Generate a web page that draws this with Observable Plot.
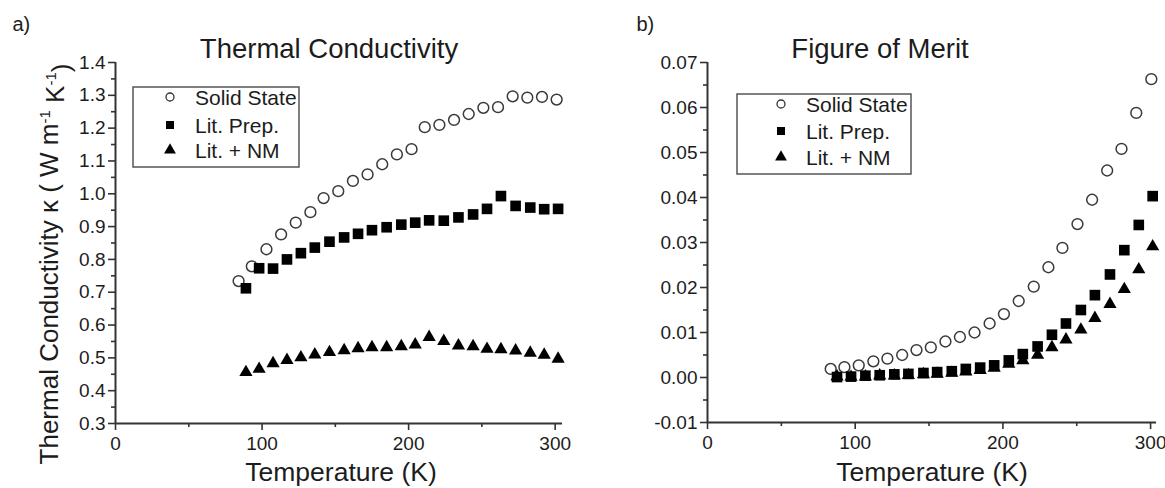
<!DOCTYPE html>
<html><head><meta charset="utf-8">
<script src="https://cdn.jsdelivr.net/npm/d3@7"></script>
<script src="https://cdn.jsdelivr.net/npm/@observablehq/plot@0.6"></script>
<style>
body{margin:0;background:#fff;}
#wrap{position:relative;width:1165px;height:488px;overflow:hidden;background:#fff;}
#wrap svg{position:absolute;top:0;}
</style></head><body><div id="wrap"></div>
<script>
// ---------- DATA ----------
const seriesNames = ["Solid State", "Lit. Prep.", "Lit. + NM"];

// Panel a) Thermal conductivity (W m-1 K-1)
const tempSolidA = [84,93,103,113,123,133,142,152,162,172,182,192,202,211,221,231,241,251,261,271,281,291,301];
const kappaSolid = [0.734,0.779,0.831,0.876,0.912,0.944,0.987,1.008,1.039,1.059,1.090,1.120,1.136,1.203,1.210,1.225,1.243,1.262,1.264,1.297,1.293,1.295,1.287];
const tempLitA = [89,98,107.5,117,126.5,136,146,156,165.5,175,185,195,204.5,214,224,234,244,253.5,263,273,283,292.5,302];
const kappaLit = [0.712,0.773,0.772,0.800,0.819,0.836,0.854,0.867,0.878,0.889,0.898,0.906,0.912,0.919,0.918,0.928,0.937,0.954,0.993,0.963,0.958,0.953,0.954];
const kappaNM = [0.456,0.466,0.483,0.493,0.501,0.510,0.517,0.523,0.529,0.532,0.532,0.535,0.540,0.563,0.551,0.537,0.535,0.527,0.526,0.522,0.515,0.509,0.497];

// Panel b) Figure of merit ZT
const tempSolidB = [83.4,92.7,102.4,112.3,121.8,131.8,141.5,151.2,161.1,170.9,180.8,191,200.7,210.7,220.9,230.8,240.3,250.5,260.4,270.6,280.3,290.3,300.5];
const ztSolid = [0.0019,0.0023,0.0027,0.0036,0.0042,0.0050,0.0061,0.0067,0.0080,0.0090,0.0100,0.0120,0.0141,0.0170,0.0202,0.0245,0.0288,0.0341,0.0395,0.0460,0.0508,0.0588,0.0663];
const tempLitB = [87.7,97.2,106.9,116.6,126.5,136,146.2,155.5,165.4,174.9,184.6,194.1,204,213.5,223.5,233.2,242.7,252.8,262.3,272.5,282.2,292,301.4];
const ztLit = [0.0001,0.0002,0.0004,0.0005,0.0007,0.0008,0.0010,0.0012,0.0014,0.0019,0.0022,0.0027,0.0038,0.0052,0.0069,0.0095,0.0120,0.0150,0.0183,0.0229,0.0283,0.0339,0.0403];
const ztNM = [0.0002,0.0001,0.0002,0.0004,0.0004,0.0005,0.0007,0.0008,0.0010,0.0013,0.0016,0.0021,0.0030,0.0038,0.0050,0.0067,0.0084,0.0106,0.0132,0.0163,0.0196,0.0240,0.0291];

// Ticks
const xTicks = [0, 100, 200, 300];
const xMinor = [50, 150, 250];
const yTicksA = [0.3,0.4,0.5,0.6,0.7,0.8,0.9,1.0,1.1,1.2,1.3,1.4];
const yMinorA = [0.35,0.45,0.55,0.65,0.75,0.85,0.95,1.05,1.15,1.25,1.35];
const yTicksB = [-0.01,0,0.01,0.02,0.03,0.04,0.05,0.06,0.07];
const yMinorB = [-0.005,0.005,0.015,0.025,0.035,0.045,0.055,0.065];

// ---------- STYLE ----------
const FONT = "'Liberation Sans', Arial, Helvetica, sans-serif";
const INK = "#1c1c1c";
const AXIS = "#333";

function dotMarks(tS, yS, tL, yL, yN) {
  return [
    Plot.dot(yS, {x: tS, y: yS, symbol: "circle", r: 5.4, fill: "white", stroke: "#3a3a3a", strokeWidth: 1.5}),
    Plot.dot(yL, {x: tL, y: yL, symbol: "square", r: 6, fill: "#000", stroke: "none"}),
    Plot.dot(yN, {x: tL, y: yN, symbol: "triangle", r: 4.9, fill: "#000", stroke: "none"})
  ];
}

function axisMarks(yTicks, yMinor, fmt, yMin) {
  return [
    Plot.axisY({ticks: yTicks, tickSize: 7, tickPadding: 3, tickFormat: fmt, label: null, fontSize: 19, strokeWidth: 1.6, stroke: AXIS, fill: INK}),
    Plot.axisY({ticks: yMinor, tickSize: 4, tickFormat: null, text: null, label: null, strokeWidth: 1.6, stroke: AXIS}),
    Plot.axisX({ticks: xTicks, tickSize: 7, tickPadding: 6, tickFormat: d => String(d), label: null, fontSize: 19, strokeWidth: 1.6, stroke: AXIS, fill: INK}),
    Plot.axisX({ticks: xMinor, tickSize: 4, tickFormat: null, text: null, label: null, strokeWidth: 1.6, stroke: AXIS}),
    Plot.ruleX([0], {stroke: AXIS, strokeWidth: 2}),
    Plot.ruleY([yMin], {stroke: AXIS, strokeWidth: 2})
  ];
}

// ---------- PANEL A ----------
const svgA = Plot.plot({
  width: 582, height: 488,
  marginLeft: 115, marginRight: 20, marginTop: 62, marginBottom: 65,
  style: {fontFamily: FONT, fontSize: "19px", color: INK, background: "white", overflow: "visible"},
  x: {domain: [0, 305]},
  y: {domain: [0.3, 1.4]},
  marks: [
    ...axisMarks(yTicksA, yMinorA, d => d.toFixed(1), 0.3),
    ...dotMarks(tempSolidA, kappaSolid, tempLitA, kappaLit, kappaNM),
    Plot.text(["Thermal Conductivity"], {frameAnchor: "top", lineAnchor: "middle", dx: -10, dy: -13, fontSize: 27.5, fill: INK}),
    Plot.text(["Temperature (K)"], {frameAnchor: "bottom", lineAnchor: "middle", dx: 2, dy: 49, fontSize: 26.5, fill: INK}),
    Plot.text(["a)"], {frameAnchor: "top-left", lineAnchor: "middle", textAnchor: "start", dx: -103, dy: -38, fontSize: 20, fill: INK})
  ]
});

// ---------- PANEL B ----------
const svgB = Plot.plot({
  width: 583, height: 488,
  marginLeft: 125, marginRight: 9, marginTop: 62, marginBottom: 66,
  style: {fontFamily: FONT, fontSize: "19px", color: INK, background: "white", overflow: "visible"},
  x: {domain: [0, 304]},
  y: {domain: [-0.01, 0.07]},
  marks: [
    ...axisMarks(yTicksB, yMinorB, d => d.toFixed(2), -0.01),
    ...dotMarks(tempSolidB, ztSolid, tempLitB, ztLit, ztNM),
    Plot.text(["Figure of Merit"], {frameAnchor: "top", lineAnchor: "middle", dx: -52, dy: -13, fontSize: 27.5, fill: INK}),
    Plot.text(["Temperature (K)"], {frameAnchor: "bottom", lineAnchor: "middle", dx: 0, dy: 50, fontSize: 26.5, fill: INK}),
    Plot.text(["b)"], {frameAnchor: "top-left", lineAnchor: "middle", textAnchor: "start", dx: -71, dy: -38, fontSize: 20, fill: INK})
  ]
});

const wrap = document.getElementById("wrap");
svgA.style.left = "0px";
svgB.style.left = "582px";
wrap.appendChild(svgA);
wrap.appendChild(svgB);

// ---------- Y LABEL (panel a) with superscripts ----------
const yl = d3.select(svgA).append("text")
  .attr("transform", "translate(49,264) rotate(-90)")
  .attr("text-anchor", "middle")
  .attr("dy", "0.35em")
  .attr("font-family", FONT)
  .attr("font-size", 26)
  .attr("fill", INK);
yl.append("tspan").text("Thermal Conductivity \u03ba ( W m");
yl.append("tspan").attr("font-size", 15).attr("dy", "-0.55em").text("-1");
yl.append("tspan").attr("dy", "0.55em").text(" K");
yl.append("tspan").attr("font-size", 15).attr("dy", "-0.55em").text("-1");
yl.append("tspan").attr("dy", "0.55em").text(")");

// ---------- LEGENDS ----------
function legend(svg, box) {
  const g = d3.select(svg).append("g").attr("text-anchor", "start");
  g.append("rect").attr("x", box.x).attr("y", box.y).attr("width", box.w).attr("height", box.h)
    .attr("fill", "white").attr("stroke", "#555").attr("stroke-width", 1.5);
  const sym = [
    {type: d3.symbolCircle, size: Math.PI * 4 * 4, fill: "white", stroke: "#333"},
    {type: d3.symbolSquare, size: 64, fill: "#000", stroke: "none"},
    {type: d3.symbolTriangle, size: Math.PI * 4.4 * 4.4, fill: "#000", stroke: "none"}
  ];
  seriesNames.forEach((name, i) => {
    const cy = box.rows[i];
    g.append("path").attr("d", d3.symbol(sym[i].type, sym[i].size)())
      .attr("transform", `translate(${box.mx},${cy})`)
      .attr("fill", sym[i].fill).attr("stroke", sym[i].stroke).attr("stroke-width", 1.3);
    g.append("text").attr("x", box.tx).attr("y", cy).attr("dy", "0.36em")
      .attr("text-anchor", "start")
      .attr("font-family", FONT).attr("font-size", 21).attr("fill", INK).text(name);
  });
}
legend(svgA, {x: 133, y: 87, w: 166, h: 80, mx: 170, tx: 195, rows: [97, 125, 150]});
legend(svgB, {x: 737 - 582, y: 94, w: 174, h: 80, mx: 781 - 582, tx: 806 - 582, rows: [104, 131, 157]});
</script></body></html>
